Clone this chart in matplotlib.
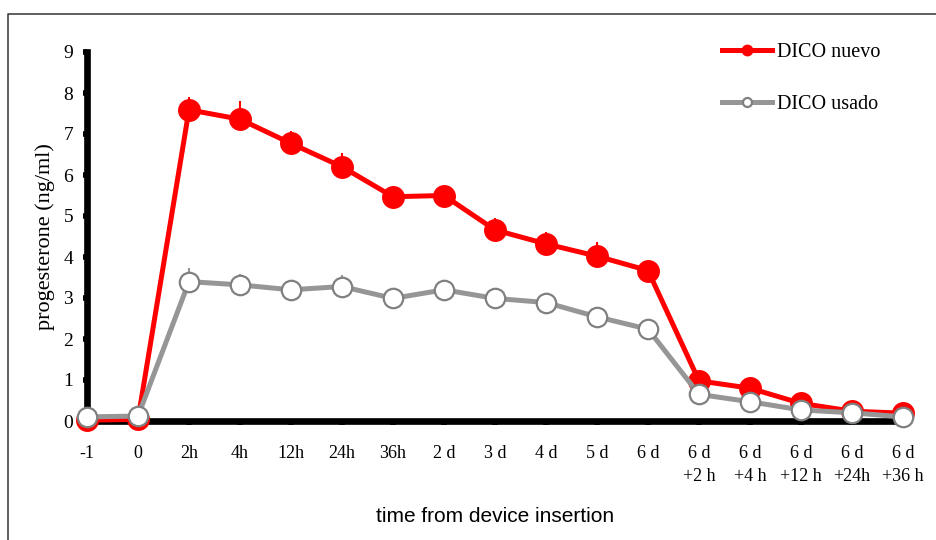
"""Progesterone profile after device insertion: new vs used DICO."""

import matplotlib

matplotlib.use("Agg")
from matplotlib import pyplot as plt  # noqa: E402
from matplotlib.lines import Line2D  # noqa: E402

_RED = "#ff0000"
_GRAY = "#969696"
_GRAY_EDGE = "#808080"
_SERIF = ["Liberation Serif", "DejaVu Serif"]

time_labels = [
    "-1", "0", "2h", "4h", "12h", "24h", "36h", "2 d", "3 d", "4 d", "5 d", "6 d",
    "6 d\n+2 h", "6 d\n+4 h", "6 d\n+12 h", "6 d\n+24h", "6 d\n+36 h",
]

nuevo_mean = [0.02, 0.04, 7.59, 7.36, 6.77, 6.20, 5.47, 5.50, 4.66, 4.32, 4.02,
              3.67, 0.98, 0.80, 0.43, 0.24, 0.19]
nuevo_err = [0.0, 0.0, 0.31, 0.44, 0.30, 0.34, 0.10, 0.10, 0.30, 0.30, 0.35,
             0.10, 0.05, 0.05, 0.05, 0.03, 0.03]

usado_mean = [0.10, 0.12, 3.40, 3.32, 3.20, 3.28, 2.99, 3.20, 2.99, 2.89, 2.54,
              2.24, 0.65, 0.47, 0.27, 0.20, 0.10]
usado_err = [0.0, 0.0, 0.32, 0.27, 0.10, 0.27, 0.10, 0.10, 0.10, 0.10, 0.10,
             0.10, 0.05, 0.05, 0.03, 0.03, 0.02]

x = list(range(len(time_labels)))

fig = plt.figure(figsize=(9.37, 5.4), dpi=100, facecolor="white")
ax = fig.add_axes([87 / 937, 1 - 421 / 540, 816 / 937, 369 / 540])

# outer frame, open on the right and bottom
frame = Line2D([8 / 937, 8 / 937, 1.0], [0.0, 1 - 14 / 540, 1 - 14 / 540],
               transform=fig.transFigure, color="#333333", linewidth=1.1)
fig.add_artist(frame)

zero = [0.0] * len(x)
ax.errorbar(x, nuevo_mean, yerr=[zero, nuevo_err], fmt="none", ecolor=_RED,
            elinewidth=1.5, capsize=0, zorder=4, clip_on=False)
ax.errorbar(x, usado_mean, yerr=[zero, usado_err], fmt="none", ecolor=_GRAY,
            elinewidth=1.5, capsize=0, zorder=4, clip_on=False)

ax.plot(x, nuevo_mean, color=_RED, linewidth=3.6, marker="o", markersize=15.5,
        markerfacecolor=_RED, markeredgecolor=_RED, zorder=5, clip_on=False)
ax.plot(x, usado_mean, color=_GRAY, linewidth=3.6, marker="o", markersize=14,
        markerfacecolor="white", markeredgecolor=_GRAY_EDGE,
        markeredgewidth=1.6, zorder=6, clip_on=False)

ax.set_xlim(0, len(x) - 1)
ax.set_ylim(0, 9)
ax.set_yticks(range(10))
ax.set_xticks(x)
ax.set_xticklabels(time_labels, family=_SERIF, fontsize=13, linespacing=1.5,
                   va="top")
for label in ax.get_yticklabels():
    label.set_fontfamily(_SERIF)
    label.set_fontsize(14)

for side in ("top", "right"):
    ax.spines[side].set_visible(False)
for side in ("left", "bottom"):
    ax.spines[side].set_linewidth(4.8)
    ax.spines[side].set_color("black")
ax.tick_params(axis="both", direction="out", length=3, width=4, color="black")
ax.tick_params(axis="x", pad=14)
ax.tick_params(axis="y", pad=7)

ax.set_ylabel("progesterone (ng/ml)", family=_SERIF, fontsize=16, labelpad=6)
ax.set_xlabel("time from device insertion", family=["Liberation Sans", "DejaVu Sans"],
              fontsize=15, labelpad=16)

handles = [
    Line2D([], [], color=_RED, linewidth=3.6, marker="o", markersize=7.5,
           markerfacecolor=_RED, markeredgecolor=_RED),
    Line2D([], [], color=_GRAY, linewidth=3.6, marker="o", markersize=6.5,
           markerfacecolor="white", markeredgecolor=_GRAY_EDGE,
           markeredgewidth=1.6),
]
fig.legend(handles, ["DICO nuevo", "DICO usado"], loc="upper left",
           bbox_to_anchor=(722 / 937, 1 - 43 / 540), frameon=False,
           prop={"family": _SERIF, "size": 14.5}, handlelength=2.5,
           handletextpad=0.25, labelspacing=1.62, borderpad=0,
           borderaxespad=0)

fig.savefig("out.png", dpi=100, facecolor="white")
plt.close(fig)
